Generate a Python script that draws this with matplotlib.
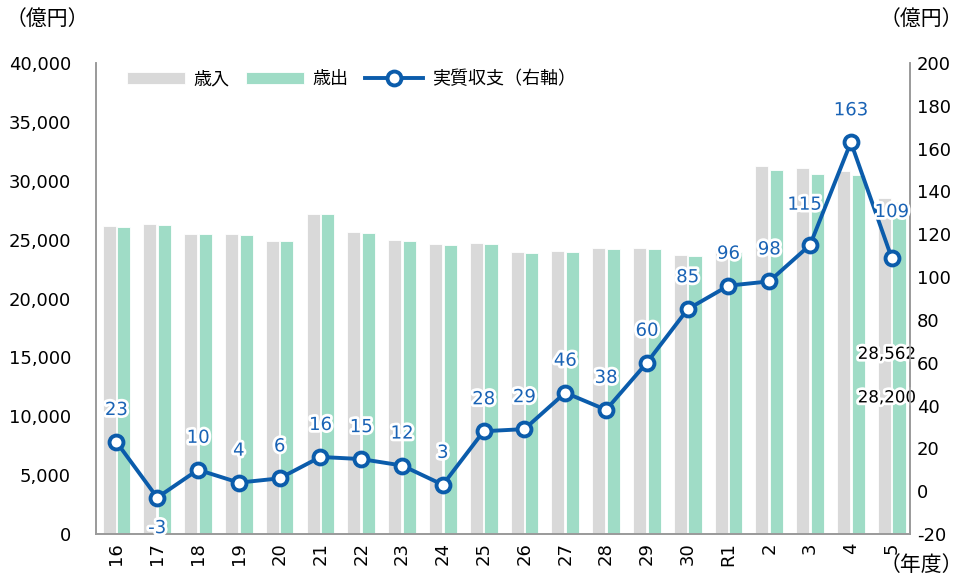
import numpy as np
import matplotlib.pyplot as plt
import matplotlib.patheffects as pe
from matplotlib.ticker import FuncFormatter

plt.rcParams['font.family'] = ['DejaVu Sans', 'Noto Sans CJK JP']
plt.rcParams['axes.unicode_minus'] = False

years = ['16', '17', '18', '19', '20', '21', '22', '23', '24', '25',
         '26', '27', '28', '29', '30', 'R1', '2', '3', '4', '5']
revenue = [26180, 26330, 25500, 25480, 24910, 27200, 25650, 25000, 24630, 24710,
           23920, 24030, 24260, 24260, 23730, 24180, 31280, 31060, 30860, 28562]
expenditure = [26050, 26270, 25450, 25430, 24880, 27150, 25600, 24890, 24540, 24600,
               23830, 23950, 24200, 24200, 23610, 23980, 30910, 30570, 30530, 28200]
balance = [23, -3, 10, 4, 6, 16, 15, 12, 3, 28, 29, 46, 38, 60, 85, 96, 98, 115, 163, 109]

c_rev = '#d9d9d9'
c_exp = '#9fdcc6'
c_line = '#0b5cab'
c_lab = '#1a63b5'
c_spine = '#9a9a9a'
jp = ['Noto Sans CJK JP', 'DejaVu Sans']

fig = plt.figure(figsize=(9.63, 5.78), dpi=100)
ax = fig.add_axes([0.0997, 0.0761, 0.8453, 0.8149])
ax2 = ax.twinx()

x = np.arange(len(years))
w = 0.32
ax.bar(x - 0.18, revenue, w, color=c_rev, edgecolor='white', linewidth=0.6, label='歳入')
ax.bar(x + 0.18, expenditure, w, color=c_exp, edgecolor='white', linewidth=0.6, label='歳出')

ax.set_ylim(0, 40000)
ax.set_yticks(np.arange(0, 40001, 5000))
ax.yaxis.set_major_formatter(FuncFormatter(lambda v, p: f'{int(v):,}'))
ax.set_xlim(-0.5, 19.45)
ax.set_xticks(x)
ax.set_xticklabels(years, rotation=90)
ax.tick_params(axis='both', length=0, labelsize=13)
ax.tick_params(axis='y', pad=18)
ax.tick_params(axis='x', pad=6)

ax2.plot(x, balance, color=c_line, linewidth=2.8, marker='o', markersize=10,
         markerfacecolor='white', markeredgecolor=c_line, markeredgewidth=2.8,
         label='実質収支（右軸）', zorder=5)
ax2.set_ylim(-20, 200)
ax2.set_yticks(np.arange(-20, 201, 20))
ax2.tick_params(axis='y', length=0, labelsize=13, pad=5)

for a in (ax, ax2):
    a.spines['top'].set_visible(False)
    for s in ('left', 'right', 'bottom'):
        a.spines[s].set_color(c_spine)
        a.spines[s].set_linewidth(1.2)

glow = [pe.withStroke(linewidth=4, foreground='white')]
offsets = {1: -22, 17: 29, 19: 33}
for i, v in enumerate(balance):
    dy = offsets.get(i, 23)
    dx = -4 if i == 17 else 0
    ax2.annotate(str(v), (x[i], v), xytext=(dx, dy), textcoords='offset points',
                 ha='center', va='center', fontsize=13, color=c_lab,
                 path_effects=glow, zorder=6)

ax.text(x[-1] - 0.12, 15300, f'{revenue[-1]:,}', ha='center', va='center', fontsize=12,
        color='black', path_effects=glow, zorder=6)
ax.text(x[-1] - 0.12, 11600, f'{expenditure[-1]:,}', ha='center', va='center', fontsize=12,
        color='black', path_effects=glow, zorder=6)

h1, l1 = ax.get_legend_handles_labels()
h2, l2 = ax2.get_legend_handles_labels()
ax2.legend(h1 + h2, l1 + l2, ncol=3, loc='center left', bbox_to_anchor=(0.018, 0.965),
           frameon=False, prop={'family': jp, 'size': 13}, handlelength=3.2,
           columnspacing=0.9, handletextpad=0.5)

fig.text(0.006, 0.967, '（億円）', family=jp, fontsize=15, ha='left', va='center')
fig.text(1.0, 0.967, '（億円）', family=jp, fontsize=15, ha='right', va='center')
fig.text(1.0, 0.022, '（年度）', family=jp, fontsize=15, ha='right', va='center')

fig.savefig('out.png', dpi=100)
